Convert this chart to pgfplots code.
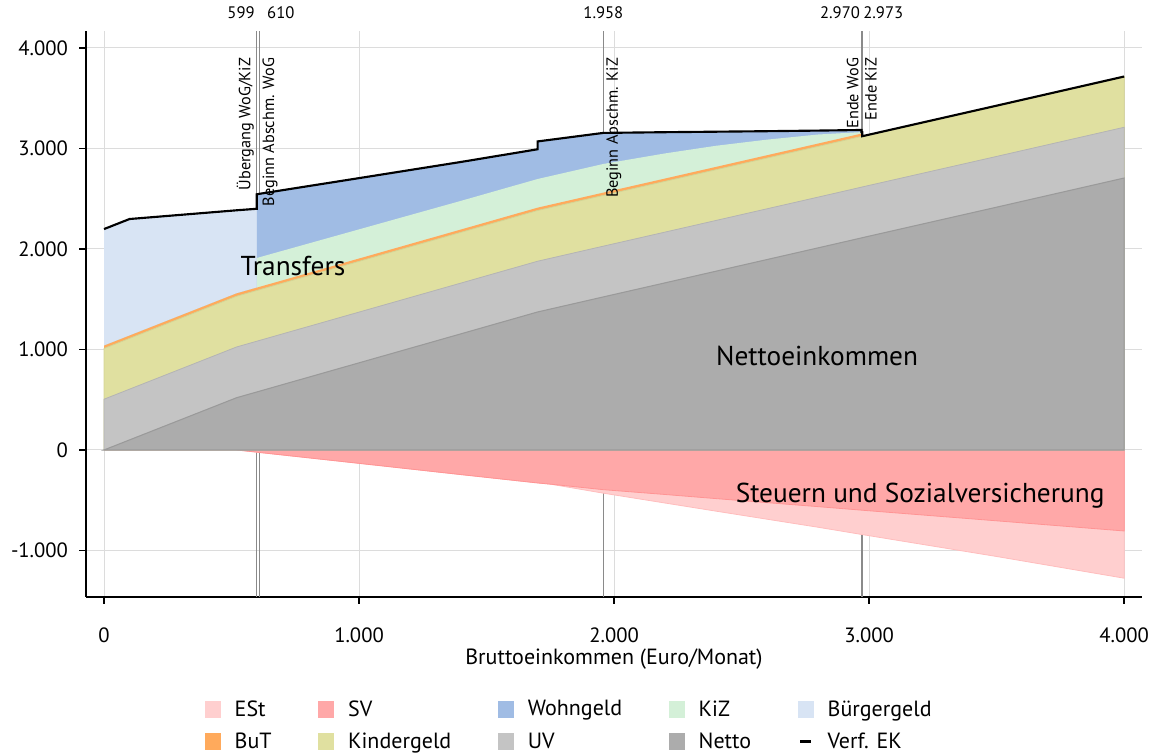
\documentclass[border=0pt]{standalone}
\usepackage{fontspec}
\setmainfont{PT Sans}
\usepackage{pgfplots}
\usepackage{pgfplotstable}
\pgfplotsset{compat=1.18}

\definecolor{cEst}{HTML}{FFCFCF}
\definecolor{cEstD}{HTML}{FFBDBD}
\definecolor{cSv}{HTML}{FFA8A8}
\definecolor{cSvD}{HTML}{FF9494}
\definecolor{cWog}{HTML}{A0BCE4}
\definecolor{cKiz}{HTML}{D4F0D8}
\definecolor{cBg}{HTML}{D8E4F4}
\definecolor{cBut}{HTML}{FFAA5C}
\definecolor{cKg}{HTML}{E0E0A0}
\definecolor{cKgD}{HTML}{D4D494}
\definecolor{cUv}{HTML}{C4C4C4}
\definecolor{cUvD}{HTML}{B4B4B4}
\definecolor{cNet}{HTML}{ACACAC}
\definecolor{cNetD}{HTML}{9A9A9A}
\definecolor{gridc}{HTML}{DCDCDC}
\definecolor{vlc}{HTML}{8A8A8A}

% Einzelne Komponenten (Euro/Monat), je Bruttoeinkommen
\pgfplotstableread{
x     netto uv  kg  but kiz wog bg
0     0     505 505 28  0   0   1160
100   100   505 505 28  0   0   1160
520   520   505 505 28  0   0   827
599   577   505 505 28  0   0   785
599   577   505 505 28  295 634 0
610   585   505 505 28  295 631 0
1000  867   505 505 28  290 510 0
1400  1156  505 505 28  285 387 0
1700  1373  505 505 28  285 296 0
1700  1373  505 505 28  285 374 0
1958  1523  505 505 28  285 309 0
2200  1663  505 505 28  250 211 0
2400  1779  505 505 28  210 140 0
2600  1895  505 505 28  155 84  0
2800  2011  505 505 28  90  39  0
2970  2110  505 505 28  15  21  0
2970  2110  505 505 28  15  0   0
2973  2112  505 505 28  12  0   0
2973  2112  505 505 0   0   0   0
3500  2416  505 505 0   0   0   0
4000  2706  505 505 0   0   0   0
}\transfers

% Abzuege: SV und ESt
\pgfplotstableread{
x     sv   est
0     0    0
520   0    0
1000  133  0
1400  245  0
1700  328  0
1750  340  0
1958  395  35
2200  443  85
2400  484  125
2600  524  165
2800  564  205
3000  605  248
3500  705  355
4000  806  470
}\abzuege

\begin{document}
\begin{tikzpicture}
\useasboundingbox (-64.5pt,-118.5pt) rectangle (799.5pt,447.75pt);
\begin{axis}[
  at={(0,0)}, anchor=south west,
  scale only axis,
  width=792pt, height=424.5pt,
  xmin=-70.6, xmax=4070,
  ymin=-1463, ymax=4169,
  clip=false,
  axis x line*=bottom, axis y line*=left,
  axis line style={-, black, line width=1pt},
  tick align=outside,
  major tick length=5pt,
  tick style={black, line width=1pt},
  xtick={0,1000,2000,3000,4000},
  ytick={-1000,0,1000,2000,3000,4000},
  grid=major,
  major grid style={gridc, line width=0.75pt},
  scaled ticks=false,
  /pgf/number format/.cd, 1000 sep={.}, assume math mode=true,
  /pgfplots/.cd,
  tick label style={font=\fontsize{15.5}{18}\selectfont},
  xticklabel style={yshift=-14.5pt},
  yticklabel style={xshift=-5pt},
  xlabel={Bruttoeinkommen (Euro/Monat)},
  xlabel style={font=\fontsize{16.5}{19}\selectfont, yshift=2.5pt},
  legend columns=5,
  legend cell align=left,
  legend style={at={(0.1123,-0.1775)}, anchor=north west, draw=none, fill=none,
    inner sep=0pt, row sep=7pt,
    font=\fontsize{16.5}{19}\selectfont,
    /tikz/every even column/.append style={column sep=33pt},
    /tikz/every odd column/.append style={column sep=9pt}},
]
% Markierungslinien
\addplot[vlc, line width=1pt, forget plot] coordinates {(599,-1463) (599,4169)};
\addplot[vlc, line width=1pt, forget plot] coordinates {(610,-1463) (610,4169)};
\addplot[vlc, line width=1pt, forget plot] coordinates {(1958,-1463) (1958,4169)};
\addplot[vlc, line width=1pt, forget plot] coordinates {(2970,-1463) (2970,4169)};
\addplot[vlc, line width=1pt, forget plot] coordinates {(2973,-1463) (2973,4169)};

% Abzuege (negativ)
\addplot[fill=cEst, draw=cEstD, line width=0.6pt, forget plot]
  table[x=x, y expr=-\thisrow{sv}-\thisrow{est}] {\abzuege} \closedcycle;
\addplot[fill=cSv, draw=cSvD, line width=0.6pt, forget plot]
  table[x=x, y expr=-\thisrow{sv}] {\abzuege} \closedcycle;

% Transfers, von oben nach unten uebermalt
\addplot[fill=cBg, draw=none, forget plot]
  table[x=x, y expr=\thisrow{netto}+\thisrow{uv}+\thisrow{kg}+\thisrow{but}+\thisrow{kiz}+\thisrow{wog}+\thisrow{bg}] {\transfers} \closedcycle;
\addplot[fill=cWog, draw=none, forget plot]
  table[x=x, y expr=\thisrow{netto}+\thisrow{uv}+\thisrow{kg}+\thisrow{but}+\thisrow{kiz}+\thisrow{wog}] {\transfers} \closedcycle;
\addplot[fill=cKiz, draw=none, forget plot]
  table[x=x, y expr=\thisrow{netto}+\thisrow{uv}+\thisrow{kg}+\thisrow{but}+\thisrow{kiz}] {\transfers} \closedcycle;
\addplot[fill=cBut, draw=none, forget plot]
  table[x=x, y expr=\thisrow{netto}+\thisrow{uv}+\thisrow{kg}+\thisrow{but}] {\transfers} \closedcycle;
\addplot[fill=cKg, draw=cKgD, line width=0.6pt, forget plot]
  table[x=x, y expr=\thisrow{netto}+\thisrow{uv}+\thisrow{kg}] {\transfers} \closedcycle;
\addplot[fill=cUv, draw=cUvD, line width=0.6pt, forget plot]
  table[x=x, y expr=\thisrow{netto}+\thisrow{uv}] {\transfers} \closedcycle;
\addplot[fill=cNet, draw=cNetD, line width=0.8pt, forget plot]
  table[x=x, y=netto] {\transfers} \closedcycle;

% verfuegbares Einkommen
\addplot[black, line width=1.6pt, forget plot]
  table[x=x, y expr=\thisrow{netto}+\thisrow{uv}+\thisrow{kg}+\thisrow{but}+\thisrow{kiz}+\thisrow{wog}+\thisrow{bg}] {\transfers};

% Legende
\addlegendimage{legend image code/.code={\fill[cEst] (0pt,-6pt) rectangle (11pt,6pt);}}
\addlegendentry{ESt}
\addlegendimage{legend image code/.code={\fill[cSv] (0pt,-6pt) rectangle (11pt,6pt);}}
\addlegendentry{SV}
\addlegendimage{legend image code/.code={\fill[cWog] (0pt,-6pt) rectangle (11pt,6pt);}}
\addlegendentry{Wohngeld}
\addlegendimage{legend image code/.code={\fill[cKiz] (0pt,-6pt) rectangle (11pt,6pt);}}
\addlegendentry{KiZ}
\addlegendimage{legend image code/.code={\fill[cBg] (0pt,-6pt) rectangle (11pt,6pt);}}
\addlegendentry{Bürgergeld}
\addlegendimage{legend image code/.code={\fill[cBut] (0pt,-6pt) rectangle (11pt,6pt);}}
\addlegendentry{BuT}
\addlegendimage{legend image code/.code={\fill[cKg] (0pt,-6pt) rectangle (11pt,6pt);}}
\addlegendentry{Kindergeld}
\addlegendimage{legend image code/.code={\fill[cUv] (0pt,-6pt) rectangle (11pt,6pt);}}
\addlegendentry{UV}
\addlegendimage{legend image code/.code={\fill[cNet] (0pt,-6pt) rectangle (11pt,6pt);}}
\addlegendentry{Netto}
\addlegendimage{legend image code/.code={\draw[black, line width=2pt] (1.5pt,0pt) -- (9.5pt,0pt);}}
\addlegendentry{Verf. EK}

% Beschriftungen
\node[font=\fontsize{20.5}{24}\selectfont] at (axis cs:741,1831) {Transfers};
\node[font=\fontsize{20.5}{24}\selectfont] at (axis cs:2796,935) {Nettoeinkommen};
\node[font=\fontsize{20.5}{24}\selectfont] at (axis cs:3200,-458) {Steuern und Sozialversicherung};

\begin{scope}[every node/.style={font=\fontsize{12.2}{14}\selectfont, rotate=90, inner sep=2pt}]
\node[anchor=south east] at (axis cs:599,3930) {Übergang WoG/KiZ};
\node[anchor=north east] at (axis cs:610,3930) {Beginn Abschm. WoG};
\node[anchor=north east] at (axis cs:1958,3930) {Beginn Abschm. KiZ};
\node[anchor=south east] at (axis cs:2970,3930) {Ende WoG};
\node[anchor=north east] at (axis cs:2973,3930) {Ende KiZ};
\end{scope}

\begin{scope}[every node/.style={font=\fontsize{12.5}{15}\selectfont, inner sep=0pt}]
\node[anchor=base east] at (axis cs:592,4296) {599};
\node[anchor=base west] at (axis cs:639,4296) {610};
\node[anchor=base] at (axis cs:1958,4296) {1.958};
\node[anchor=base east] at (axis cs:2965,4296) {2.970};
\node[anchor=base west] at (axis cs:2976,4296) {2.973};
\end{scope}
\end{axis}
\end{tikzpicture}
\end{document}
